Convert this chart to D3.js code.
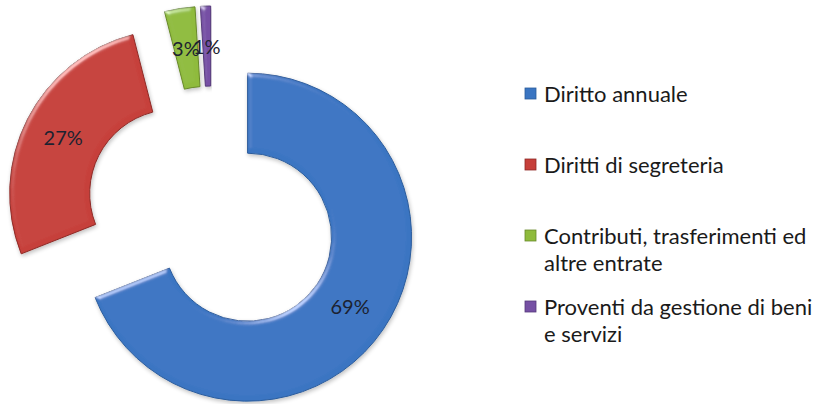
<!DOCTYPE html>
<html>
<head>
<meta charset="utf-8">
<script src="https://cdn.jsdelivr.net/npm/d3@7"></script>
<style>
  body { margin: 0; background: #fff; }
  #chart { width: 823px; height: 404px; }
</style>
</head>
<body>
<div id="chart"></div>
<script>
// data
var categories = ['Diritto annuale', 'Diritti di segreteria', 'Contributi, trasferimenti ed altre entrate', 'Proventi da gestione di beni e servizi'];
var legendLines = [['Diritto annuale'], ['Diritti di segreteria'], ['Contributi, trasferimenti ed', 'altre entrate'], ['Proventi da gestione di beni', 'e servizi']];
var values = [69, 27, 3, 1];
var colors = ['#3a75c2', '#c63f3a', '#8fbb3c', '#7650a4'];
var strokes = ['#2b5c9c', '#8e2a26', '#68892a', '#55397a'];

document.addEventListener('DOMContentLoaded', function () {
  drawDonut();
});

function drawDonut() {
  var el = document.getElementById('chart');
  var width = 823, height = 404;
  var cx = 212, cy = 213;          // common centre before explosion
  var rOuter = 164, rInner = 84;
  var explode = 43;
  var font = 'Lato, "Open Sans", sans-serif';

  var svg = d3.select(el).append('svg')
    .attr('width', width)
    .attr('height', height)
    .attr('viewBox', '0 0 ' + width + ' ' + height);

  // soft bevel: highlight only on edges facing the light
  var defs = svg.append('defs');
  var f = defs.append('filter').attr('id', 'bevel').attr('x', '-10%').attr('y', '-10%').attr('width', '120%').attr('height', '120%');
  f.append('feGaussianBlur').attr('in', 'SourceAlpha').attr('stdDeviation', 2.5).attr('result', 'blur');
  f.append('feSpecularLighting').attr('in', 'blur').attr('surfaceScale', 3).attr('specularConstant', 0.45)
    .attr('specularExponent', 22).attr('lighting-color', '#ffffff').attr('result', 'spec')
    .append('feDistantLight').attr('azimuth', 235).attr('elevation', 22);
  f.append('feComposite').attr('in', 'spec').attr('in2', 'SourceAlpha').attr('operator', 'in').attr('result', 'specOut');
  f.append('feComposite').attr('in', 'SourceGraphic').attr('in2', 'specOut').attr('operator', 'arithmetic')
    .attr('k1', 0).attr('k2', 1).attr('k3', 1).attr('k4', 0).attr('result', 'lit');
  f.append('feGaussianBlur').attr('in', 'SourceAlpha').attr('stdDeviation', 2).attr('result', 'sh');
  f.append('feOffset').attr('in', 'sh').attr('dx', 1).attr('dy', 2).attr('result', 'shOff');
  f.append('feComponentTransfer').attr('in', 'shOff').attr('result', 'shFade')
    .append('feFuncA').attr('type', 'linear').attr('slope', 0.25);
  var merge = f.append('feMerge');
  merge.append('feMergeNode').attr('in', 'shFade');
  merge.append('feMergeNode').attr('in', 'lit');

  var pie = d3.pie().sort(null).value(function (d) { return d; });
  var arcs = pie(values);
  var arc = d3.arc().innerRadius(rInner).outerRadius(rOuter);
  var labelArc = d3.arc().innerRadius((rInner + rOuter) / 2).outerRadius((rInner + rOuter) / 2);

  var slice = svg.selectAll('.slice')
    .data(arcs)
    .join('g')
    .attr('class', 'slice')
    .attr('transform', function (d) {
      var a = (d.startAngle + d.endAngle) / 2;
      return 'translate(' + (cx + explode * Math.sin(a)) + ',' + (cy - explode * Math.cos(a)) + ')';
    });

  slice.append('path')
    .attr('d', arc)
    .attr('fill', function (d, i) { return colors[i]; })
    .attr('stroke', function (d, i) { return strokes[i]; })
    .attr('stroke-width', 1)
    .attr('filter', 'url(#bevel)');

  slice.append('text')
    .attr('transform', function (d) { return 'translate(' + labelArc.centroid(d) + ')'; })
    .attr('text-anchor', 'middle')
    .attr('dy', '0.38em')
    .attr('font-family', font)
    .attr('font-size', 20)
    .attr('fill', '#1c2230')
    .text(function (d) { return d.value + '%'; });

  // legend
  var legend = svg.append('g').attr('transform', 'translate(525,0)');
  var row = legend.selectAll('.row')
    .data(categories)
    .join('g')
    .attr('class', 'row')
    .attr('transform', function (d, i) { return 'translate(0,' + (102 + i * 71) + ')'; });

  row.append('rect')
    .attr('x', 0).attr('y', -14)
    .attr('width', 11).attr('height', 11)
    .attr('fill', function (d, i) { return colors[i]; })
    .attr('stroke', function (d, i) { return strokes[i]; })
    .attr('stroke-width', 0.8);

  row.append('text')
    .attr('x', 19)
    .attr('font-family', font)
    .attr('font-size', 22)
    .attr('fill', '#1a1a1a')
    .selectAll('tspan')
    .data(function (d, i) { return legendLines[i]; })
    .join('tspan')
    .attr('x', 19)
    .attr('dy', function (d, j) { return j === 0 ? 0 : 27; })
    .text(function (d) { return d; });
}
</script>
</body>
</html>
